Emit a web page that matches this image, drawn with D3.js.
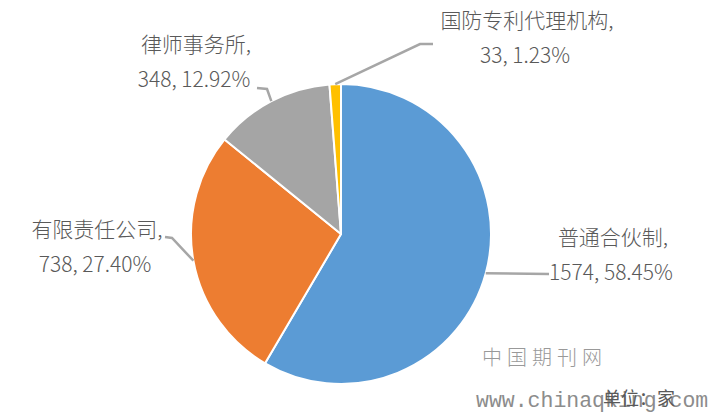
<!DOCTYPE html>
<html>
<head>
<meta charset="utf-8">
<script src="https://cdn.jsdelivr.net/npm/d3@7"></script>
<style>
  body { margin: 0; background: #fff; }
  svg text { font-family: "Noto Sans CJK SC", "Noto Sans", sans-serif; }
</style>
</head>
<body>
<svg id="chart" width="708" height="413"></svg>
<script>
// data
var categories = ["普通合伙制", "有限责任公司", "律师事务所", "国防专利代理机构"];
var counts = [1574, 738, 348, 33];
var shares = ["58.45%", "27.40%", "12.92%", "1.23%"];
var colors = ["#5b9bd5", "#ed7d31", "#a5a5a5", "#ffc000"];

var width = 708, height = 413;
var cx = 341, cy = 234, radius = 150;

// label placement: elbow, end of leader, text centre (layout only)
var labelLayout = [
  { elbow: null,       end: [549, 274], text: [613, 245] },
  { elbow: [172, 238], end: [165, 237], text: [97, 237] },
  { elbow: [267, 89],  end: [257, 88],  text: [196, 52] },
  { elbow: [420, 44],  end: [433, 44],  text: [527, 28] }
];

var svg = d3.select("#chart");
var g = svg.append("g").attr("transform", "translate(" + cx + "," + cy + ")");

var pie = d3.pie().sort(null).value(function(d) { return d; });
var arcs = pie(counts);

var arc = d3.arc().innerRadius(0).outerRadius(radius);

g.selectAll("path.slice")
  .data(arcs)
  .enter().append("path")
  .attr("class", "slice")
  .attr("d", arc)
  .attr("fill", function(d, i) { return colors[i]; })
  .attr("stroke", "#fff")
  .attr("stroke-width", 2)
  .attr("stroke-linejoin", "round");

// leader lines
var lineGen = d3.line();
svg.selectAll("path.leader")
  .data(arcs)
  .enter().append("path")
  .attr("class", "leader")
  .attr("fill", "none")
  .attr("stroke", "#a6a6a6")
  .attr("stroke-width", 2.5)
  .attr("d", function(d, i) {
    var a = (d.startAngle + d.endAngle) / 2;
    var start = [cx + radius * Math.sin(a), cy - radius * Math.cos(a)];
    var L = labelLayout[i];
    var pts = [start];
    if (L.elbow) pts.push(L.elbow);
    pts.push(L.end);
    return lineGen(pts);
  });

// labels
var labels = svg.selectAll("text.label")
  .data(arcs)
  .enter().append("text")
  .attr("class", "label")
  .attr("text-anchor", "middle")
  .attr("fill", "#595959")
  .style("font-size", "21px")
  .style("font-weight", 300);

labels.append("tspan")
  .attr("x", function(d, i) { return labelLayout[i].text[0]; })
  .attr("y", function(d, i) { return labelLayout[i].text[1]; })
  .text(function(d, i) { return categories[i] + ","; });

labels.append("tspan")
  .attr("x", function(d, i) { return labelLayout[i].text[0] - 2; })
  .attr("y", function(d, i) { return labelLayout[i].text[1] + 35; })
  .text(function(d, i) { return counts[i] + ", " + shares[i]; });

// watermark
svg.append("text")
  .attr("x", 482)
  .attr("y", 365)
  .attr("fill", "#999")
  .style("font-size", "20px")
  .style("font-weight", 300)
  .style("letter-spacing", "5px")
  .text("中国期刊网");

svg.append("text")
  .attr("x", 476)
  .attr("y", 407)
  .attr("fill", "#8c8c8c")
  .style("font-family", "'Liberation Mono', monospace")
  .style("font-size", "21.5px")
  .text("www.chinaqking.com");

svg.append("text")
  .attr("x", 603)
  .attr("y", 405)
  .attr("fill", "#595959")
  .style("font-size", "18px")
  .text("单位：家");
</script>
</body>
</html>
